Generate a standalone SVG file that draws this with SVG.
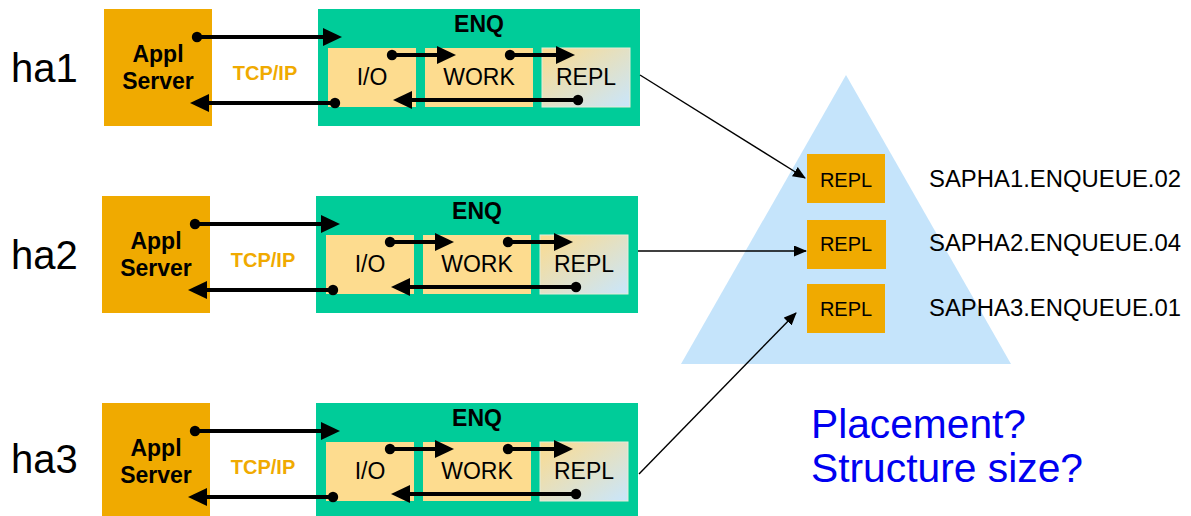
<svg xmlns="http://www.w3.org/2000/svg" width="1191" height="516" viewBox="0 0 1191 516">
  <defs>
    <linearGradient id="replFill" x1="0" y1="0" x2="1" y2="1">
      <stop offset="0" stop-color="#fcdb8e"/>
      <stop offset="1" stop-color="#c9e6fc"/>
    </linearGradient>
    <!-- thick flow arrow parts -->
    <marker id="tip" markerUnits="userSpaceOnUse" markerWidth="20" markerHeight="20" refX="2" refY="9" orient="auto">
      <path d="M0,0 L19,9 L0,18 z" fill="#000"/>
    </marker>
    <marker id="dot" markerUnits="userSpaceOnUse" markerWidth="12" markerHeight="12" refX="6" refY="6">
      <circle cx="6" cy="6" r="5.2" fill="#000"/>
    </marker>
    <!-- thin replication arrow -->
    <marker id="thin" markerUnits="userSpaceOnUse" markerWidth="14" markerHeight="12" refX="12" refY="5.5" orient="auto">
      <path d="M0,0 L13,5.5 L0,11 z" fill="#000"/>
    </marker>
  </defs>
  <style>
    .appl { fill: #f0aa00; }
    .enq { fill: #00cc99; }
    .part { fill: #fddc8f; }
    .repl { fill: url(#replFill); stroke: #e6ecd8; stroke-width: 1; }
    .bold { font-family: "Liberation Sans", Arial, sans-serif; font-weight: bold; text-anchor: middle; fill: #000; }
    .reg { font-family: "Liberation Sans", Arial, sans-serif; fill: #000; }
    .mid { text-anchor: middle; }
    .tcp { font-family: "Liberation Sans", Arial, sans-serif; font-weight: bold; font-size: 20px; fill: #f0aa00; text-anchor: middle; }
    .host { font-family: "Liberation Sans", Arial, sans-serif; font-size: 40px; fill: #000; }
    .flow { fill: none; stroke: #000; stroke-width: 4; marker-start: url(#dot); marker-end: url(#tip); }
    .link { fill: none; stroke: #000; stroke-width: 1.4; marker-end: url(#thin); }
    .store { fill: #c5e4fb; }
    .slot { fill: #f0aa00; }
    .q { font-family: "Liberation Sans", Arial, sans-serif; font-size: 40px; fill: #0000f0; }
  </style>

  <!-- shared structure -->
  <g id="structure">
    <polygon class="store" points="846,75 1011,364 681,364"/>
    <g id="slot1">
      <rect class="slot" x="807" y="154" width="78" height="49"/>
      <text class="reg mid" x="846" y="187" font-size="20">REPL</text>
    </g>
    <g id="slot2">
      <rect class="slot" x="807" y="220" width="79" height="49"/>
      <text class="reg mid" x="846" y="251" font-size="20">REPL</text>
    </g>
    <g id="slot3">
      <rect class="slot" x="807" y="284" width="78" height="49"/>
      <text class="reg mid" x="846" y="316" font-size="20">REPL</text>
    </g>
    <text class="reg" x="929" y="187" font-size="23" textLength="252" lengthAdjust="spacingAndGlyphs">SAPHA1.ENQUEUE.02</text>
    <text class="reg" x="929" y="251" font-size="23" textLength="252" lengthAdjust="spacingAndGlyphs">SAPHA2.ENQUEUE.04</text>
    <text class="reg" x="929" y="316" font-size="23" textLength="252" lengthAdjust="spacingAndGlyphs">SAPHA3.ENQUEUE.01</text>
  </g>

  <!-- host ha1 -->
  <g id="host1">
    <text class="host" x="11" y="82">ha1</text>
    <g id="appl1">
      <rect class="appl" x="104" y="9" width="108" height="117"/>
      <text class="bold" x="158" y="62" font-size="23">Appl</text>
      <text class="bold" x="158" y="89" font-size="23">Server</text>
    </g>
    <text class="tcp" x="265" y="80">TCP/IP</text>
    <g id="enq1">
      <rect class="enq" x="318" y="9" width="322" height="117"/>
      <text class="bold" x="479" y="32" font-size="23">ENQ</text>
      <g id="io1"><rect class="part" x="328" y="48" width="88" height="59"/><text class="reg mid" x="372" y="85" font-size="23">I/O</text></g>
      <g id="work1"><rect class="part" x="425" y="48" width="108" height="59"/><text class="reg mid" x="479" y="85" font-size="23">WORK</text></g>
      <g id="repl1"><rect class="repl" x="542" y="48" width="88" height="59"/><text class="reg mid" x="586" y="85" font-size="23">REPL</text></g>
    </g>
  </g>

  <!-- host ha2 -->
  <g id="host2" transform="translate(-2,187)">
    <text class="host" x="13" y="82">ha2</text>
    <g id="appl2">
      <rect class="appl" x="104" y="9" width="108" height="117"/>
      <text class="bold" x="158" y="62" font-size="23">Appl</text>
      <text class="bold" x="158" y="89" font-size="23">Server</text>
    </g>
    <text class="tcp" x="265" y="80">TCP/IP</text>
    <g id="enq2">
      <rect class="enq" x="318" y="9" width="322" height="117"/>
      <text class="bold" x="479" y="32" font-size="23">ENQ</text>
      <g id="io2"><rect class="part" x="328" y="48" width="88" height="59"/><text class="reg mid" x="372" y="85" font-size="23">I/O</text></g>
      <g id="work2"><rect class="part" x="425" y="48" width="108" height="59"/><text class="reg mid" x="479" y="85" font-size="23">WORK</text></g>
      <g id="repl2"><rect class="repl" x="542" y="48" width="88" height="59"/><text class="reg mid" x="586" y="85" font-size="23">REPL</text></g>
    </g>
  </g>

  <!-- host ha3 -->
  <g id="host3" transform="translate(-2,394)">
    <text class="host" x="13" y="79">ha3</text>
    <g id="appl3">
      <rect class="appl" x="104" y="9" width="108" height="117"/>
      <text class="bold" x="158" y="62" font-size="23">Appl</text>
      <text class="bold" x="158" y="89" font-size="23">Server</text>
    </g>
    <text class="tcp" x="265" y="80">TCP/IP</text>
    <g id="enq3">
      <rect class="enq" x="318" y="9" width="322" height="117"/>
      <text class="bold" x="479" y="32" font-size="23">ENQ</text>
      <g id="io3"><rect class="part" x="328" y="48" width="88" height="59"/><text class="reg mid" x="372" y="85" font-size="23">I/O</text></g>
      <g id="work3"><rect class="part" x="425" y="48" width="108" height="59"/><text class="reg mid" x="479" y="85" font-size="23">WORK</text></g>
      <g id="repl3"><rect class="repl" x="542" y="48" width="88" height="59"/><text class="reg mid" x="586" y="85" font-size="23">REPL</text></g>
    </g>
  </g>

  <!-- connectors -->
  <g id="connectors">
    <g transform="translate(0,0)">
      <path class="flow" d="M197,37 H325"/>
      <path class="flow" d="M392,55 H439"/>
      <path class="flow" d="M510,55 H558"/>
      <path class="flow" d="M578,100 H410"/>
      <path class="flow" d="M335,103 H207"/>
    </g>
    <g transform="translate(-2,187)">
      <path class="flow" d="M197,37 H325"/>
      <path class="flow" d="M392,55 H439"/>
      <path class="flow" d="M510,55 H558"/>
      <path class="flow" d="M578,100 H410"/>
      <path class="flow" d="M335,103 H207"/>
    </g>
    <g transform="translate(-2,394)">
      <path class="flow" d="M197,37 H325"/>
      <path class="flow" d="M392,55 H439"/>
      <path class="flow" d="M510,55 H558"/>
      <path class="flow" d="M578,100 H410"/>
      <path class="flow" d="M335,103 H207"/>
    </g>
    <path class="link" d="M640,75 L805,178"/>
    <path class="link" d="M638,251 H806" stroke="#333"/>
    <path class="link" d="M639,474 L796,313"/>
  </g>

  <text class="q" x="811" y="438" textLength="215" lengthAdjust="spacingAndGlyphs">Placement?</text>
  <text class="q" x="811" y="482" textLength="272" lengthAdjust="spacingAndGlyphs">Structure size?</text>
</svg>
